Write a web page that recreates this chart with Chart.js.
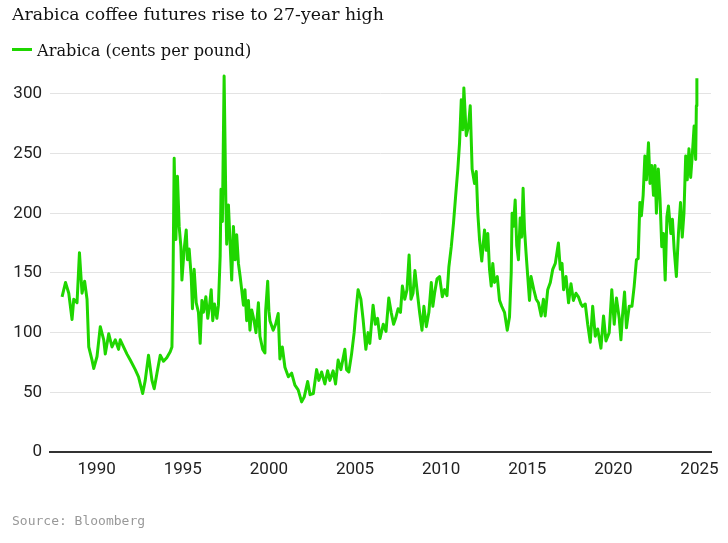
<!DOCTYPE html>
<html>
<head>
<meta charset="utf-8">
<script src="https://cdn.jsdelivr.net/npm/chart.js@4/dist/chart.umd.min.js"></script>
<style>
  body { margin: 0; background: #fff; }
  #wrap { position: relative; width: 728px; height: 543px; overflow: hidden; }
  #title { position: absolute; left: 12px; top: 4px; font: 17.3px "DejaVu Serif", serif; color: #111; white-space: nowrap; }
  #legend { position: absolute; left: 12px; top: 41px; font: 16.2px "DejaVu Serif", serif; color: #111; white-space: nowrap; }
  #legend .swatch { display: inline-block; width: 20px; height: 3px; background: #1fd600; vertical-align: middle; margin-right: 5px; position: relative; top: -2px; }
  #source { position: absolute; left: 12px; top: 513px; font: 13px "DejaVu Sans Mono", monospace; color: #999; white-space: nowrap; }
  #chartBox { position: absolute; left: 0; top: 0; width: 728px; height: 543px; }
</style>
</head>
<body>
<div id="wrap">
  <div id="chartBox"><canvas id="coffeeChart"></canvas></div>
  <div id="title">Arabica coffee futures rise to 27-year high</div>
  <div id="legend"><span class="swatch"></span>Arabica (cents per pound)</div>
  <div id="source">Source: Bloomberg</div>
</div>
<script>
// values (decimal year, cents per pound)
const years = [
  1987.99, 1988.19, 1988.38, 1988.57, 1988.67, 1988.86, 1989.0, 1989.15, 1989.3, 1989.44,
  1989.54, 1989.73, 1989.83, 1990.02, 1990.21, 1990.41, 1990.5, 1990.7, 1990.89, 1991.08,
  1991.27, 1991.37, 1991.56, 1991.76, 1991.95, 1992.24, 1992.43, 1992.67, 1992.82, 1993.01,
  1993.21, 1993.34, 1993.5, 1993.69, 1993.88, 1994.07, 1994.27, 1994.37, 1994.43, 1994.5,
  1994.6, 1994.69, 1994.79, 1994.89, 1994.95, 1995.08, 1995.2, 1995.27, 1995.37, 1995.49,
  1995.56, 1995.66, 1995.78, 1995.91, 1996.01, 1996.11, 1996.2, 1996.34, 1996.45, 1996.55,
  1996.65, 1996.74, 1996.84, 1996.98, 1997.07, 1997.17, 1997.22, 1997.3, 1997.4, 1997.5,
  1997.55, 1997.65, 1997.75, 1997.84, 1997.94, 1998.04, 1998.13, 1998.23, 1998.33, 1998.42,
  1998.52, 1998.61, 1998.71, 1998.81, 1998.9, 1999.0, 1999.14, 1999.25, 1999.39, 1999.48,
  1999.64, 1999.77, 1999.81, 1999.93, 2000.0, 2000.06, 2000.25, 2000.39, 2000.54, 2000.64,
  2000.78, 2000.93, 2001.13, 2001.32, 2001.51, 2001.7, 2001.9, 2002.05, 2002.25, 2002.39,
  2002.58, 2002.77, 2002.9, 2003.06, 2003.25, 2003.41, 2003.54, 2003.73, 2003.87, 2004.02,
  2004.18, 2004.41, 2004.51, 2004.64, 2004.8, 2004.95, 2005.03, 2005.18, 2005.34, 2005.47,
  2005.63, 2005.76, 2005.86, 2006.05, 2006.18, 2006.31, 2006.45, 2006.64, 2006.8, 2006.96,
  2007.1, 2007.24, 2007.36, 2007.5, 2007.64, 2007.75, 2007.89, 2008.02, 2008.14, 2008.25,
  2008.37, 2008.48, 2008.6, 2008.75, 2008.89, 2009.0, 2009.14, 2009.29, 2009.43, 2009.52,
  2009.62, 2009.76, 2009.91, 2010.07, 2010.2, 2010.34, 2010.45, 2010.59, 2010.72, 2010.84,
  2010.97, 2011.07, 2011.17, 2011.26, 2011.32, 2011.46, 2011.59, 2011.69, 2011.8, 2011.94,
  2012.04, 2012.13, 2012.23, 2012.36, 2012.52, 2012.62, 2012.71, 2012.81, 2012.91, 2013.0,
  2013.1, 2013.26, 2013.39, 2013.52, 2013.68, 2013.84, 2013.97, 2014.07, 2014.12, 2014.2,
  2014.3, 2014.39, 2014.49, 2014.59, 2014.68, 2014.76, 2014.84, 2014.93, 2015.03, 2015.13,
  2015.22, 2015.38, 2015.52, 2015.65, 2015.81, 2015.94, 2016.04, 2016.19, 2016.34, 2016.48,
  2016.63, 2016.81, 2016.92, 2017.02, 2017.11, 2017.25, 2017.4, 2017.54, 2017.68, 2017.83,
  2017.97, 2018.12, 2018.21, 2018.37, 2018.51, 2018.66, 2018.8, 2018.95, 2019.09, 2019.28,
  2019.43, 2019.57, 2019.76, 2019.91, 2020.05, 2020.18, 2020.34, 2020.44, 2020.53, 2020.65,
  2020.76, 2020.92, 2021.08, 2021.21, 2021.34, 2021.44, 2021.54, 2021.63, 2021.73, 2021.83,
  2021.92, 2022.04, 2022.13, 2022.23, 2022.33, 2022.42, 2022.5, 2022.61, 2022.71, 2022.81,
  2022.91, 2023.01, 2023.11, 2023.2, 2023.34, 2023.43, 2023.53, 2023.66, 2023.78, 2023.9,
  2024.0, 2024.1, 2024.2, 2024.29, 2024.39, 2024.49, 2024.58, 2024.69, 2024.78, 2024.82,
  2024.85
];
const arabica = [
  130, 142, 133, 111, 128, 125, 167, 133, 143, 128,
  88, 77, 70, 80, 105, 94, 82, 99, 88, 94,
  86, 94, 88, 82, 77, 69, 63, 49, 60, 81,
  60, 53, 66, 81, 76, 79, 84, 88, 139, 246,
  178, 231, 189, 172, 144, 170, 186, 161, 170, 147,
  120, 153, 125, 117, 91, 127, 117, 130, 112, 122,
  136, 110, 124, 112, 123, 164, 220, 193, 315, 209,
  174, 207, 174, 144, 189, 161, 182, 158, 147, 136,
  123, 136, 110, 127, 102, 119, 110, 100, 125, 97,
  86, 83, 118, 143, 118, 110, 102, 107, 116, 78,
  88, 71, 63, 66, 56, 52, 42, 46, 59, 48,
  49, 69, 60, 67, 57, 68, 60, 68, 57, 77,
  69, 86, 69, 67, 82, 100, 114, 136, 128, 111,
  86, 100, 91, 123, 107, 112, 95, 107, 101, 129,
  117, 107, 112, 120, 117, 139, 128, 136, 165, 128,
  133, 152, 136, 117, 102, 122, 105, 117, 142, 122,
  133, 145, 147, 130, 136, 131, 155, 172, 192, 214,
  237, 259, 295, 270, 305, 265, 273, 290, 237, 225,
  235, 200, 178, 160, 186, 169, 183, 153, 139, 158,
  142, 147, 127, 122, 117, 102, 113, 150, 200, 189,
  211, 173, 161, 196, 180, 221, 187, 167, 147, 127,
  147, 136, 128, 125, 114, 128, 114, 136, 142, 153,
  158, 175, 153, 158, 136, 147, 125, 141, 127, 133,
  130, 124, 122, 124, 107, 92, 122, 97, 103, 87,
  114, 93, 100, 136, 107, 129, 112, 94, 114, 134,
  104, 122, 122, 139, 161, 162, 209, 198, 215, 248,
  228, 259, 225, 240, 215, 240, 200, 237, 212, 172,
  183, 144, 197, 206, 183, 195, 170, 147, 183, 209,
  180, 200, 248, 228, 254, 230, 248, 273, 245, 290,
  313
];
const xTickLabels = [1990, 1995, 2000, 2005, 2010, 2015, 2020, 2025];
const yTickLabels = [0, 50, 100, 150, 200, 250, 300];
const seriesName = 'Arabica (cents per pound)';

const tickFont = { family: 'Roboto, "Liberation Sans", sans-serif', size: 17 };

const ctx = document.getElementById('coffeeChart').getContext('2d');
new Chart(ctx, {
  type: 'line',
  data: {
    datasets: [{
      label: seriesName,
      data: years.map((y, i) => ({ x: y, y: arabica[i] })),
      borderColor: '#1fd600',
      borderWidth: 3,
      pointRadius: 0,
      tension: 0,
      borderJoinStyle: 'round'
    }]
  },
  options: {
    responsive: true,
    maintainAspectRatio: false,
    animation: false,
    layout: { padding: { top: 70, right: 17, bottom: 51, left: 0 } },
    plugins: {
      legend: { display: false },
      tooltip: { enabled: false }
    },
    scales: {
      x: {
        type: 'linear',
        min: 1987.29,
        max: 2025.67,
        afterBuildTicks: scale => { scale.ticks = xTickLabels.map(v => ({ value: v })); },
        afterFit: scale => { scale.height = 40; },
        grid: { display: false, drawTicks: false },
        border: { display: true, color: '#333', width: 2 },
        ticks: { font: tickFont, color: '#222', padding: 8, maxRotation: 0, callback: v => String(v) }
      },
      y: {
        min: 0,
        max: 320,
        afterBuildTicks: scale => { scale.ticks = yTickLabels.map(v => ({ value: v })); },
        afterFit: scale => { scale.width = 50; },
        grid: {
          color: c => c.tick && c.tick.value === 0 ? 'rgba(0,0,0,0)' : '#e3e3e3',
          lineWidth: 1,
          drawTicks: false
        },
        border: { display: false },
        ticks: { font: tickFont, color: '#222', padding: 8 }
      }
    }
  }
});
</script>
</body>
</html>
